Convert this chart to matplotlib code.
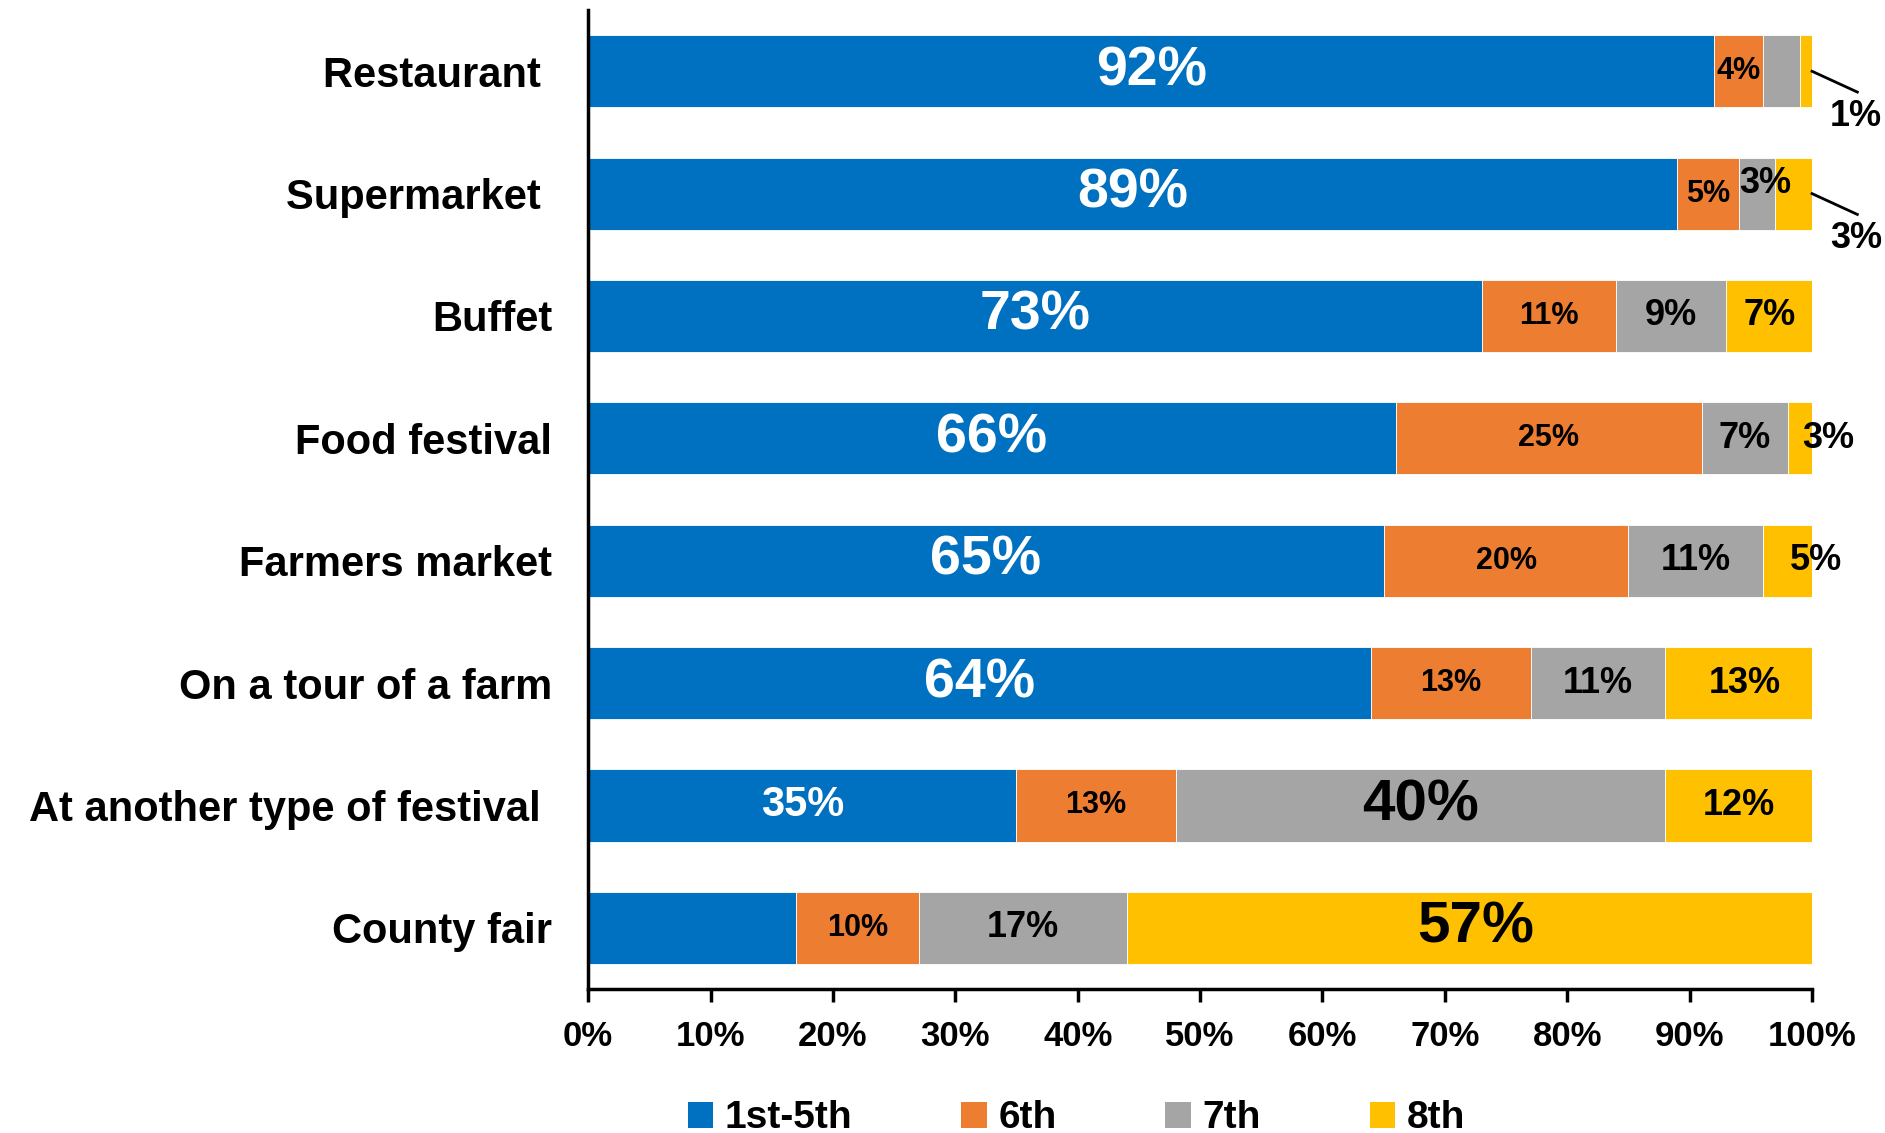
import numpy as np
import matplotlib.pyplot as plt
from matplotlib.patches import Patch

FONT = ['Liberation Sans Narrow', 'Liberation Sans', 'DejaVu Sans']
plt.rcParams['font.family'] = FONT
plt.rcParams['font.weight'] = 'bold'

venues = ['Restaurant ', 'Supermarket ', 'Buffet', 'Food festival', 'Farmers market',
          'On a tour of a farm', 'At another type of festival ', 'County fair']
grades = ['1st-5th', '6th', '7th', '8th']
first_fifth = [92, 89, 73, 66, 65, 64, 35, 17]
sixth = [4, 5, 11, 25, 20, 13, 13, 10]
seventh = [3, 3, 9, 7, 11, 11, 40, 17]
eighth = [1, 3, 7, 3, 5, 13, 12, 57]

colors = ['#0070C0', '#ED7D31', '#A5A5A5', '#FFC000']

# label style per segment: (fontsize, colour) or None for no label
BIG_W = (40, 'white')
MID_W = (30, 'white')
BIG_K = (42, 'black')
MED = (26, 'black')
SMALL = (22, 'black')
styles = [
    [BIG_W, SMALL, None, 'out'],
    [BIG_W, SMALL, MED, 'out'],
    [BIG_W, SMALL, MED, MED],
    [BIG_W, SMALL, MED, MED],
    [BIG_W, SMALL, MED, MED],
    [BIG_W, SMALL, MED, MED],
    [MID_W, SMALL, BIG_K, MED],
    [None, SMALL, MED, BIG_K],
]
# small nudges for crowded labels (x in %, y in bar units)
nudge = {(1, 2): (0.7, -0.08), (3, 3): (1.8, 0), (4, 3): (1.8, 0)}

fig = plt.figure(figsize=(18.85, 11.33), dpi=100)
ax = fig.add_axes([0.312, 0.1271, 0.6493, 0.864])

series = [first_fifth, sixth, seventh, eighth]
y = np.arange(len(venues))
left = np.zeros(len(venues))
for k, vals in enumerate(series):
    vals = np.array(vals, dtype=float)
    ax.barh(y, vals, left=left, height=0.59, color=colors[k],
            edgecolor='white', linewidth=0.6, label=grades[k])
    for i, v in enumerate(vals):
        st = styles[i][k]
        if st is None:
            continue
        if st == 'out':
            # tiny end segment: leader line out to the right
            x0 = min(left[i] + v, 100)
            ax.plot([x0, x0 + 3.7], [y[i], y[i] + 0.17], color='black', lw=2, clip_on=False)
            ax.text(x0 + 3.6, y[i] + 0.37, f'{v:.0f}%', ha='center', va='center',
                    fontsize=26, color='black', fontweight='bold', clip_on=False)
            continue
        dx, dy = nudge.get((i, k), (0, 0))
        ax.text(left[i] + v / 2 + dx, y[i] + dy, f'{v:.0f}%', ha='center', va='center',
                fontsize=st[0], color=st[1], fontweight='bold')
    left += vals

ax.set_xlim(0, 100)
ax.set_ylim(7.5, -0.5)
ax.set_yticks(y)
ax.set_yticklabels(venues, fontsize=30, fontweight='bold')
ax.tick_params(axis='y', length=0, pad=26)
ax.set_xticks(np.arange(0, 101, 10))
ax.set_xticklabels([f'{t}%' for t in range(0, 101, 10)], fontsize=25, fontweight='bold')
ax.tick_params(axis='x', direction='out', length=9, width=2.5, pad=13)
for side in ['top', 'right']:
    ax.spines[side].set_visible(False)
for side in ['left', 'bottom']:
    ax.spines[side].set_linewidth(2.5)

handles = [Patch(facecolor=c, edgecolor='none') for c in colors]
fig.legend(handles, grades, loc='center', bbox_to_anchor=(0.571, 0.013), ncol=4,
           frameon=False, fontsize=28, handlelength=0.65, handleheight=0.65,
           handletextpad=0.3, columnspacing=2.8)

fig.savefig('out.png', dpi=100)
